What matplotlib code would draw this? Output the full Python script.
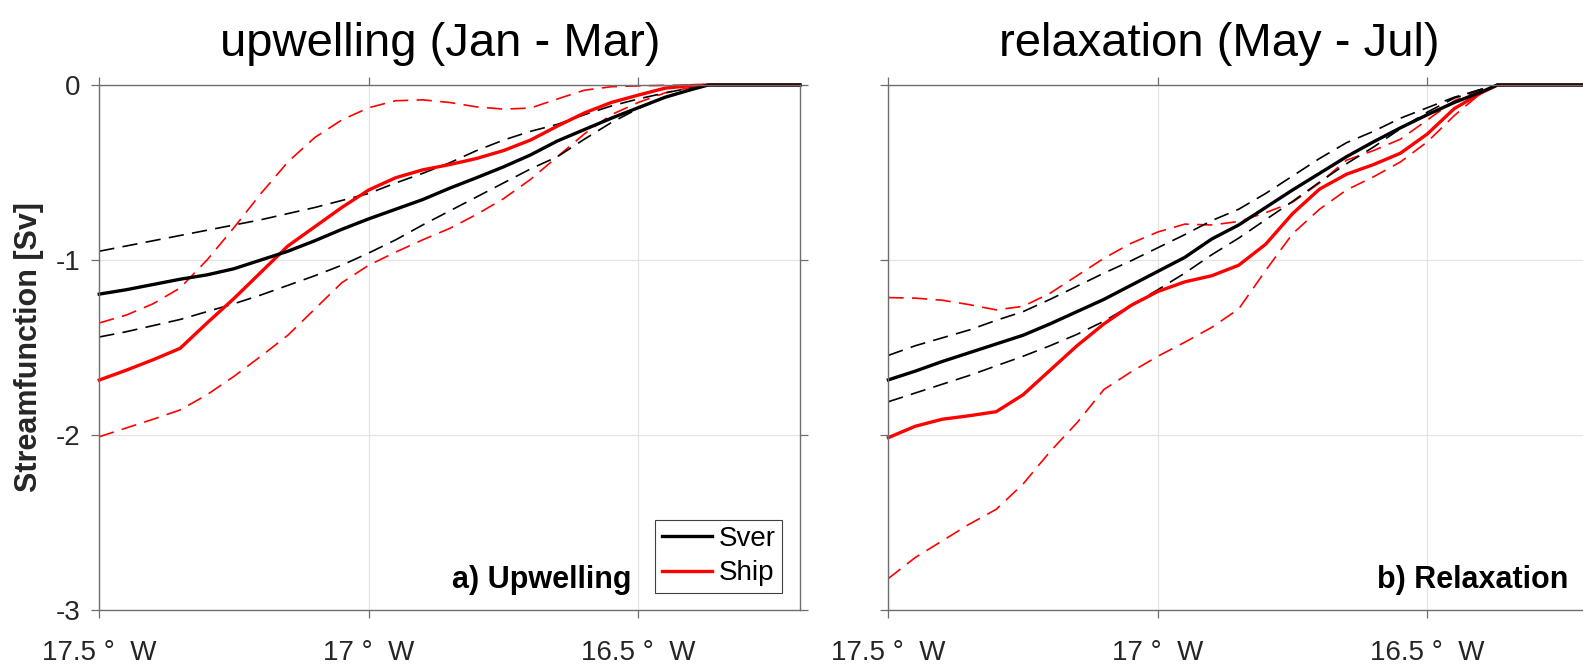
import matplotlib
matplotlib.use('Agg')
import matplotlib.pyplot as plt

plt.rcParams['font.family'] = ['Liberation Sans', 'DejaVu Sans']
plt.rcParams['lines.scale_dashes'] = False

# longitude (deg, west negative) shared by all profiles
lon = [-17.50, -17.45, -17.40, -17.35, -17.30, -17.25, -17.20, -17.15, -17.10,
       -17.05, -17.00, -16.95, -16.90, -16.85, -16.80, -16.75, -16.70, -16.65,
       -16.60, -16.55, -16.50, -16.45, -16.40, -16.37, -16.20]

# upwelling season (Jan - Mar)
sver_up = [-1.195, -1.17, -1.14, -1.11, -1.085, -1.05, -1.00, -0.95, -0.89,
           -0.825, -0.765, -0.71, -0.655, -0.59, -0.53, -0.468, -0.40, -0.32,
           -0.255, -0.19, -0.13, -0.07, -0.025, 0, 0]
sver_up_hi = [-0.95, -0.92, -0.89, -0.86, -0.83, -0.80, -0.77, -0.735, -0.70,
              -0.66, -0.62, -0.56, -0.505, -0.445, -0.375, -0.315, -0.265, -0.225,
              -0.17, -0.12, -0.08, -0.045, -0.015, 0, 0]
sver_up_lo = [-1.44, -1.41, -1.375, -1.34, -1.295, -1.25, -1.20, -1.145, -1.09,
              -1.03, -0.96, -0.885, -0.80, -0.72, -0.64, -0.56, -0.48, -0.41,
              -0.31, -0.215, -0.135, -0.07, -0.02, 0, 0]
ship_up = [-1.686, -1.63, -1.57, -1.505, -1.36, -1.22, -1.07, -0.92, -0.81,
           -0.70, -0.60, -0.53, -0.485, -0.455, -0.42, -0.375, -0.315, -0.235,
           -0.16, -0.10, -0.058, -0.018, -0.003, 0, 0]
ship_up_hi = [-1.36, -1.315, -1.25, -1.16, -1.00, -0.815, -0.62, -0.44, -0.30,
              -0.20, -0.13, -0.09, -0.085, -0.10, -0.125, -0.138, -0.132, -0.08,
              -0.03, -0.01, -0.005, -0.002, 0, 0, 0]
ship_up_lo = [-2.01, -1.96, -1.91, -1.857, -1.77, -1.665, -1.55, -1.43, -1.28,
              -1.13, -1.03, -0.955, -0.885, -0.82, -0.74, -0.65, -0.54, -0.41,
              -0.28, -0.17, -0.10, -0.045, -0.012, 0, 0]

# relaxation season (May - Jul)
sver_rl = [-1.685, -1.635, -1.58, -1.53, -1.48, -1.43, -1.365, -1.295, -1.225,
           -1.145, -1.065, -0.985, -0.88, -0.80, -0.70, -0.60, -0.505, -0.41,
           -0.325, -0.245, -0.17, -0.10, -0.04, 0, 0]
sver_rl_hi = [-1.545, -1.49, -1.445, -1.40, -1.345, -1.295, -1.225, -1.15, -1.075,
              -1.005, -0.93, -0.855, -0.775, -0.71, -0.62, -0.52, -0.42, -0.33,
              -0.265, -0.19, -0.13, -0.07, -0.025, 0, 0]
sver_rl_lo = [-1.81, -1.76, -1.71, -1.66, -1.605, -1.55, -1.49, -1.425, -1.35,
              -1.26, -1.17, -1.075, -0.97, -0.875, -0.77, -0.665, -0.555, -0.45,
              -0.355, -0.25, -0.155, -0.075, -0.025, 0, 0]
ship_rl = [-2.015, -1.95, -1.91, -1.89, -1.867, -1.77, -1.63, -1.49, -1.365,
           -1.26, -1.18, -1.125, -1.09, -1.03, -0.91, -0.735, -0.595, -0.51,
           -0.455, -0.39, -0.28, -0.135, -0.045, 0, 0]
ship_rl_hi = [-1.215, -1.218, -1.23, -1.255, -1.285, -1.265, -1.19, -1.09, -0.99,
              -0.905, -0.84, -0.795, -0.80, -0.78, -0.73, -0.67, -0.56, -0.43,
              -0.375, -0.31, -0.20, -0.09, -0.025, 0, 0]
ship_rl_lo = [-2.82, -2.70, -2.605, -2.51, -2.425, -2.28, -2.095, -1.93, -1.74,
              -1.64, -1.55, -1.47, -1.385, -1.28, -1.06, -0.85, -0.71, -0.60,
              -0.525, -0.44, -0.325, -0.175, -0.045, 0, 0]

xticks = [-17.5, -17.0, -16.5]
xticklabels = ['17.5 \u00b0  W', '17 \u00b0  W', '16.5 \u00b0  W']
yticks = [-3, -2, -1, 0]
yticklabels = ['-3', '-2', '-1', '0']

titles = ['upwelling (Jan - Mar)', 'relaxation (May - Jul)']
title_x = [0.486, 0.472]
tags = ['a) Upwelling', 'b) Relaxation']
tag_x = [0.760, 0.970]

axcol = '#6e6e6e'
txtcol = '#262626'
dash = (0, (11, 6))

fig = plt.figure(figsize=(15.83, 6.66), dpi=100)
ax1 = fig.add_axes([0.0627, 0.0841, 0.4426, 0.7883])
ax2 = fig.add_axes([0.5612, 0.0841, 0.4426, 0.7883])

panels = [
    (ax1, sver_up, sver_up_hi, sver_up_lo, ship_up, ship_up_hi, ship_up_lo),
    (ax2, sver_rl, sver_rl_hi, sver_rl_lo, ship_rl, ship_rl_hi, ship_rl_lo),
]

for i, (ax, sv, svh, svl, sh, shh, shl) in enumerate(panels):
    ax.plot(lon, shh, color='r', lw=1.2, ls=dash, clip_on=False)
    ax.plot(lon, shl, color='r', lw=1.2, ls=dash, clip_on=False)
    ax.plot(lon, svh, color='k', lw=1.2, ls=dash, clip_on=False)
    ax.plot(lon, svl, color='k', lw=1.2, ls=dash, clip_on=False)
    l_ship, = ax.plot(lon, sh, color='r', lw=2.4, clip_on=False, label='Ship')
    l_sver, = ax.plot(lon, sv, color='k', lw=2.4, clip_on=False, label='Sver')

    ax.set_xlim(-17.5, -16.2)
    ax.set_ylim(-3, 0)
    ax.set_xticks(xticks)
    ax.set_xticklabels(xticklabels)
    ax.set_yticks(yticks)
    if i == 0:
        ax.set_yticklabels(yticklabels)
        ax.set_ylabel('Streamfunction [Sv]', fontsize=22, fontweight='bold',
                      color=txtcol)
        ax.yaxis.set_label_coords(-0.079, 0.5)
    else:
        ax.set_yticklabels([])

    ax.grid(True, color='#e3e3e3', lw=0.9)
    ax.set_axisbelow(True)
    for s in ax.spines.values():
        s.set_color(axcol)
        s.set_linewidth(1.0)
    ax.tick_params(direction='out', top=True, right=True, length=5.5,
                   width=0.9, color=axcol, labelcolor=txtcol, labelsize=20)
    ax.tick_params(axis='x', pad=16)
    ax.tick_params(axis='y', pad=8)

    ax.set_title(titles[i], fontsize=34, color='k', pad=21, x=title_x[i])
    ax.text(tag_x[i], 0.042, tags[i], transform=ax.transAxes,
            ha='right', va='baseline', fontsize=22, fontweight='bold', color='k')

    if i == 0:
        leg = ax.legend(handles=[l_sver, l_ship], loc='lower right',
                        bbox_to_anchor=(0.9747, 0.033), borderaxespad=0,
                        fontsize=20, fancybox=False, framealpha=1,
                        edgecolor='#404040', handlelength=1.8,
                        handletextpad=0.25, labelspacing=0.3,
                        borderpad=0.23)
        leg.get_frame().set_linewidth(0.8)

fig.savefig('out.png', dpi=100)
